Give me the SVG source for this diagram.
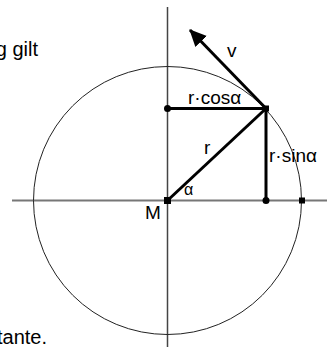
<svg xmlns="http://www.w3.org/2000/svg" width="329" height="347" viewBox="0 0 329 347">
<defs>
<style>
text{font-family:"Liberation Sans",Arial,sans-serif;fill:#000;}
.body{font-size:20px;}
.lbl{font-size:19px;}
.axis{stroke:#777;stroke-width:2;fill:none;}
.vaxis{stroke:#444;stroke-width:1.5;fill:none;}
.circ{stroke:#222;stroke-width:1;fill:none;}
.thick{stroke:#000;stroke-width:3;fill:none;stroke-linecap:butt;}
</style>
<marker id="arr" markerUnits="userSpaceOnUse" markerWidth="20" markerHeight="20" refX="16" refY="8" orient="auto" viewBox="0 0 20 16">
<path d="M0,0 L17,8 L0,16 Z" fill="#000"/>
</marker>
</defs>
<rect width="329" height="347" fill="#fff"/>
<text class="body" x="38" y="56" text-anchor="end">g gilt</text>
<text class="body" x="47" y="344" text-anchor="end">tante.</text>
<g id="axes">
<line class="axis" x1="12" y1="200.5" x2="327" y2="200.5"/>
<line class="vaxis" x1="167.5" y1="7" x2="167.5" y2="347"/>
</g>
<g id="circle">
<circle class="circ" cx="167.5" cy="200.5" r="134"/>
</g>
<g id="connectors">
<line class="thick" x1="167.5" y1="200.5" x2="266" y2="108.5"/>
<line class="thick" x1="167.5" y1="108.5" x2="266" y2="108.5"/>
<line class="thick" x1="266" y1="108.5" x2="266" y2="200.5"/>
<line class="thick" x1="266" y1="108.5" x2="190" y2="30" marker-end="url(#arr)"/>
</g>
<g id="points">
<rect x="164" y="197" width="7" height="7" fill="#000"/>
<rect x="263" y="105.5" width="6" height="6" fill="#000"/>
<rect x="299" y="197.5" width="6" height="6" fill="#000"/>
<circle cx="167.5" cy="108.5" r="3.5" fill="#000"/>
<circle cx="266" cy="200.5" r="3.5" fill="#000"/>
</g>
<g id="labels">
<text class="lbl" x="227" y="57">v</text>
<text class="lbl" x="188" y="104">r·cosα</text>
<text class="lbl" x="204" y="154">r</text>
<text class="lbl" x="269" y="162">r·sinα</text>
<text class="lbl" x="184" y="195" style="font-size:16px">α</text>
<text class="lbl" x="145" y="219">M</text>
</g>
</svg>
